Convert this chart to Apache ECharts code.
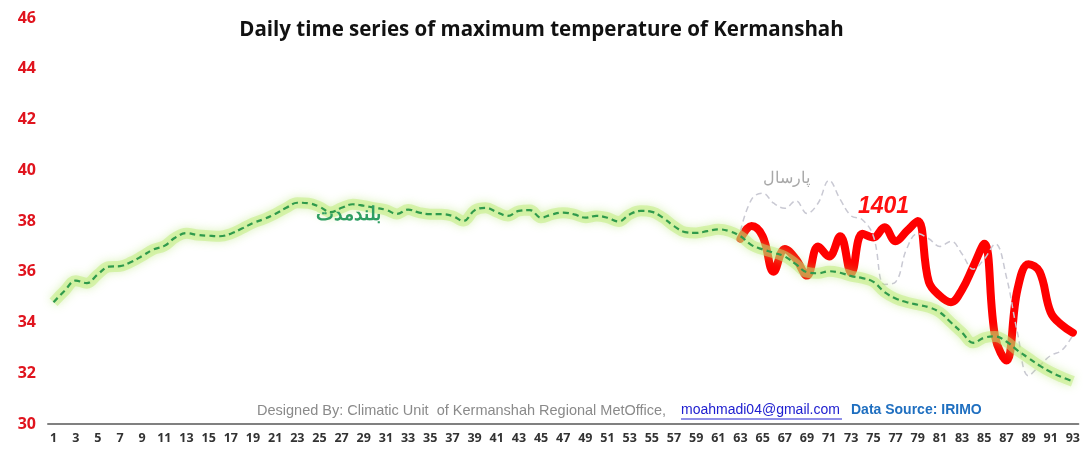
<!DOCTYPE html>
<html>
<head>
<meta charset="utf-8">
<script src="https://cdn.jsdelivr.net/npm/echarts@6/dist/echarts.min.js"></script>
<style>
  html, body { margin: 0; padding: 0; background: #fff; }
  #chart { width: 1083px; height: 450px; }
</style>
</head>
<body>
<div id="chart"></div>
<script>
// days 1..93
const days = []
for (let d = 1; d <= 93; d++) days.push(String(d))

// long-term mean (بلندمدت)
const longTerm = [
  34.8, 35.25, 35.65, 35.55, 35.9, 36.2, 36.22, 36.38, 36.62, 36.88,
  37.02, 37.35, 37.52, 37.45, 37.42, 37.4, 37.5, 37.7, 37.92, 38.08,
  38.28, 38.52, 38.72, 38.7, 38.56, 38.35, 38.52, 38.66, 38.6, 38.52,
  38.44, 38.28, 38.45, 38.33, 38.27, 38.27, 38.2, 38.0, 38.42, 38.52,
  38.35, 38.2, 38.4, 38.43, 38.13, 38.26, 38.33, 38.26, 38.13, 38.2,
  38.13, 37.98, 38.26, 38.4, 38.36, 38.13, 37.8, 37.56, 37.53, 37.6,
  37.67, 37.6, 37.4, 37.05, 36.88, 36.75, 36.6, 36.3, 35.98, 35.94,
  36.02, 35.96, 35.83, 35.75, 35.6, 35.2, 34.95, 34.8, 34.7, 34.6,
  34.4, 34.0, 33.6, 33.2, 33.4, 33.45, 33.25, 32.9, 32.6, 32.3,
  32.05, 31.85, 31.68
]

// last year (پارسال), days 63..93
const lastYear = [
  37.6, 38.85, 39.1, 38.7, 38.5, 38.8, 38.3, 38.7, 39.6, 38.85,
  38.2, 38.05, 37.4, 35.5, 35.6, 36.9, 37.5, 37.3, 37.0, 37.2,
  36.7, 36.1, 36.5, 37.1, 35.8, 33.6, 31.9, 32.3, 32.7, 32.9,
  33.5
]

// this year (1401), days 63..93
const thisYear = [
  37.3, 37.8, 37.4, 36.0, 36.9, 36.5, 35.85, 37.0, 36.6, 37.4,
  35.95, 37.5, 37.35, 37.75, 37.2, 37.6, 38.0, 35.6, 35.05, 34.8,
  35.3, 36.2, 37.1, 33.4, 32.5, 35.3, 36.3, 36.0, 34.4, 33.9,
  33.6
]

const yTicks = [30, 32, 34, 36, 38, 40, 42, 44, 46]

const pad = new Array(62).fill(null)
const lastYearFull = pad.concat(lastYear)
const thisYearFull = pad.concat(thisYear)

const chart = echarts.init(document.getElementById('chart'))

const option = {
  animation: false,
  backgroundColor: '#fff',
  title: {
    text: 'Daily time series of maximum temperature of Kermanshah',
    left: 'center',
    top: 15,
    textStyle: { fontFamily: 'Open Sans', fontWeight: 'bold', fontSize: 20.5, color: '#111' }
  },
  grid: { left: 48, right: 3, top: 18, bottom: 26 },
  xAxis: {
    type: 'category',
    data: days,
    boundaryGap: true,
    axisLine: { lineStyle: { color: '#808080', width: 2 } },
    axisTick: { show: false },
    axisLabel: {
      interval: 1,
      margin: 8,
      fontFamily: 'Open Sans',
      fontWeight: 'bold',
      fontSize: 12.5,
      color: '#333'
    }
  },
  yAxis: {
    type: 'value',
    min: yTicks[0],
    max: yTicks[yTicks.length - 1],
    interval: 2,
    splitLine: { show: false },
    axisLine: { show: false },
    axisTick: { show: false },
    axisLabel: {
      margin: 12,
      fontFamily: 'Open Sans',
      fontWeight: 'bold',
      fontSize: 16,
      color: '#e0141e'
    }
  },
  series: [
    {
      name: '1401',
      type: 'line',
      data: thisYearFull,
      smooth: 0.4,
      symbol: 'none',
      z: 2,
      lineStyle: { color: '#ff0000', width: 8, cap: 'round', join: 'round' }
    },
    {
      name: 'lastYear',
      type: 'line',
      data: lastYearFull,
      smooth: 0.4,
      symbol: 'none',
      z: 3,
      lineStyle: { color: '#c9c9d3', width: 1.5, type: [6, 4] }
    },
    {
      name: 'glow',
      type: 'line',
      data: longTerm,
      smooth: 0.4,
      symbol: 'none',
      z: 4,
      lineStyle: {
        color: 'rgba(190, 235, 120, 0.5)',
        width: 11,
        shadowBlur: 10,
        shadowColor: 'rgba(170, 225, 90, 0.8)'
      }
    },
    {
      name: 'longTerm',
      type: 'line',
      data: longTerm,
      smooth: 0.4,
      symbol: 'none',
      z: 5,
      lineStyle: { color: '#2f9a4c', width: 2.2, type: [6, 4] }
    }
  ],
  graphic: [
    {
      type: 'text', left: 316, top: 205, z: 10,
      style: { text: 'بلندمدت', fill: '#2e9e62', font: 'bold 19px "Noto Sans"' }
    },
    {
      type: 'text', left: 763, top: 170, z: 10,
      style: { text: 'پارسال', fill: '#a8a8a8', font: '16px "Noto Sans"' }
    },
    {
      type: 'text', left: 858, top: 195, z: 10,
      style: { text: '1401', fill: '#ff1010', font: 'italic bold 23px "Liberation Sans"' }
    },
    {
      type: 'text', left: 257, top: 403, z: 10,
      style: {
        text: 'Designed By: Climatic Unit  of Kermanshah Regional MetOffice,',
        fill: '#8a8a8a', font: '14.5px "Liberation Sans"'
      }
    },
    {
      type: 'text', left: 681, top: 403, z: 10,
      style: { text: 'moahmadi04@gmail.com', fill: '#2020d0', font: '14px "Liberation Sans"' }
    },
    {
      type: 'line', z: 10,
      shape: { x1: 681, y1: 419, x2: 842, y2: 419 },
      style: { stroke: '#2020d0', lineWidth: 1 }
    },
    {
      type: 'text', left: 851, top: 403, z: 10,
      style: { text: 'Data Source: IRIMO', fill: '#1f6fc0', font: 'bold 14px "Liberation Sans"' }
    }
  ]
}

chart.setOption(option)
</script>
</body>
</html>
